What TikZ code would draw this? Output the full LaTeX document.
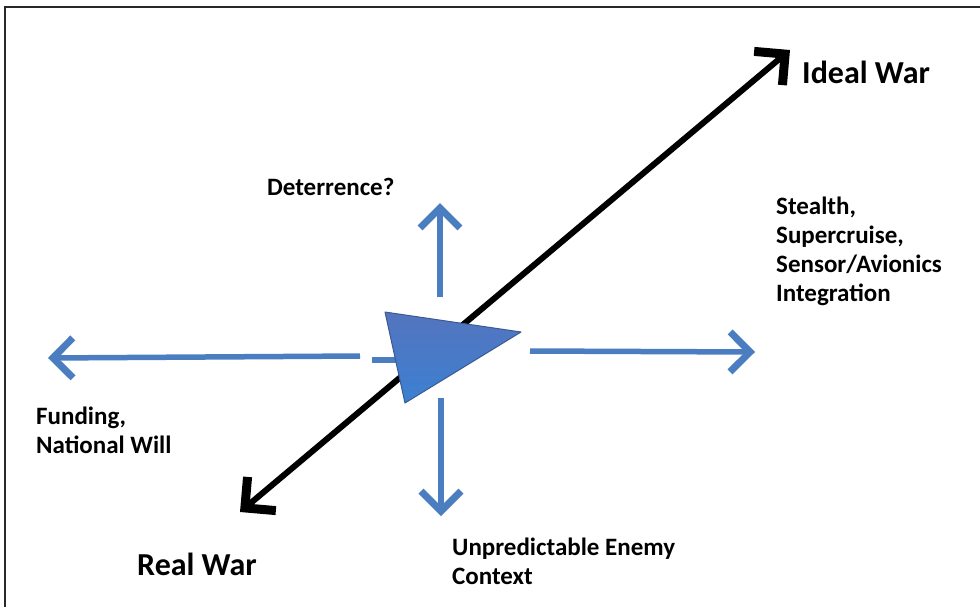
\documentclass[tikz,border=0pt]{standalone}
\usepackage{fontspec}
\setmainfont{Carlito}
\usetikzlibrary{arrows.meta}
\definecolor{axisblue}{RGB}{74,126,192}
\definecolor{tritop}{RGB}{84,116,190}
\definecolor{tribot}{RGB}{60,128,210}
\definecolor{triedge}{RGB}{60,90,145}
\definecolor{framegray}{RGB}{40,40,40}
\tikzset{
  bluearrow/.style={draw=axisblue,line width=5.5pt,-{Straight Barb[length=20pt,width=40pt,line width=7pt]}},
  blackarrow/.style={draw=black,line width=6pt,{Straight Barb[length=22pt,width=44pt,line width=9pt]}-{Straight Barb[length=22pt,width=44pt,line width=9pt]}},
  small/.style={inner sep=0pt,align=left,font=\bfseries\fontsize{25}{29}\selectfont},
  big/.style={inner sep=0pt,font=\bfseries\fontsize{32}{38}\selectfont},
}
\begin{document}
\begin{tikzpicture}[x=1pt,y=-1pt]
\useasboundingbox (0,0) rectangle (980,606);
\fill[white] (0,0) rectangle (980,606);
% frame
\coordinate (fbl) at (5,620);
\coordinate (ftl) at (5,7);
\coordinate (ftr) at (995,7);
\draw[framegray,line width=2pt] (fbl) -- (ftl) -- (ftr);
% black axis
\coordinate (real) at (240,512);
\coordinate (ideal) at (790,50);
\draw[blackarrow] (real) -- (ideal);
% blue arrows
\coordinate (lS) at (360,356);
\coordinate (lE) at (48,358);
\coordinate (lsA) at (372,360);
\coordinate (lsB) at (396,360);
\coordinate (rS) at (530,351);
\coordinate (rE) at (755,352);
\coordinate (uS) at (440,297);
\coordinate (uE) at (440,203);
\coordinate (dS) at (441,398);
\coordinate (dE) at (441,516);
\draw[bluearrow] (lS) -- (lE);
\draw[draw=axisblue,line width=5.5pt] (lsA) -- (lsB);
\draw[bluearrow] (rS) -- (rE);
\draw[bluearrow] (uS) -- (uE);
\draw[bluearrow] (dS) -- (dE);
% triangle
\coordinate (t1) at (385,312);
\coordinate (t2) at (521,332);
\coordinate (t3) at (405,403);
\shade[top color=tritop,bottom color=tribot,draw=triedge,line width=1pt,line join=round]
  (t1) -- (t2) -- (t3) -- cycle;
% labels
\node[big,anchor=base west] (idealtxt) at (802,83) {Ideal War};
\node[big,anchor=base west] (realtxt) at (137,575) {Real War};
\node[small,anchor=base west] (deter) at (267,195) {Deterrence?};
\node[small,anchor=north west] (stealth) at (776,197) {Stealth,\\Supercruise,\\Sensor/Avionics\\Integration};
\node[small,anchor=north west] (fund) at (36,407) {Funding,\\National Will};
\node[small,anchor=north west] (enemy) at (452,538) {Unpredictable Enemy\\Context};
\end{tikzpicture}
\end{document}
